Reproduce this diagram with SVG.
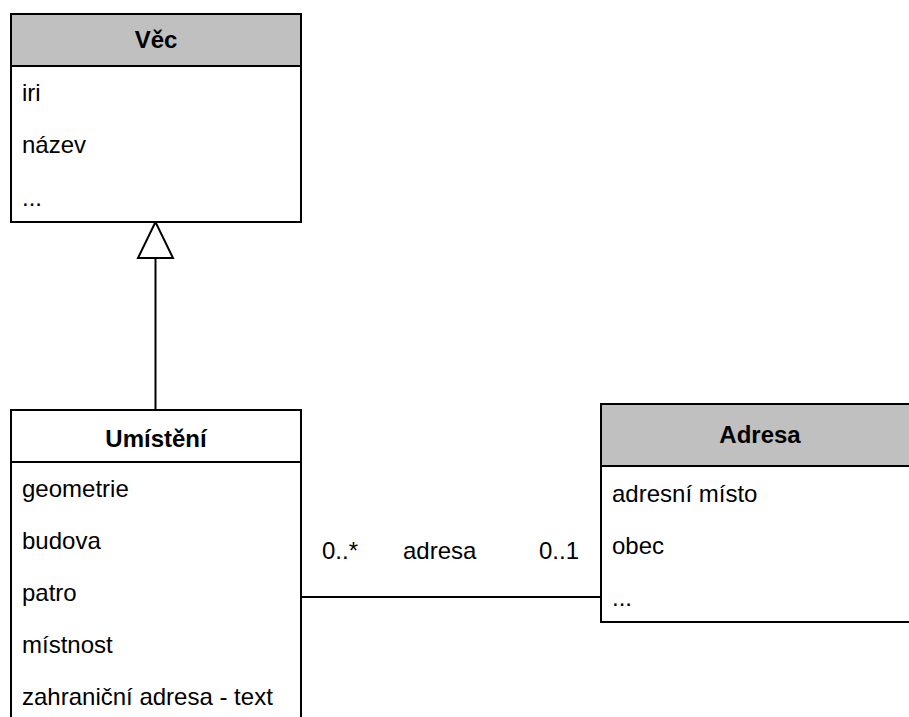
<svg xmlns="http://www.w3.org/2000/svg" width="909" height="717" viewBox="0 0 909 717">
  <style>
    .box { fill: #ffffff; stroke: #000000; stroke-width: 2; }
    .head { fill: #c0c0c0; stroke: #000000; stroke-width: 2; }
    .title { font-family: "Liberation Sans", Arial, sans-serif; font-size: 24px; font-weight: bold; text-anchor: middle; fill: #000; }
    .attr { font-family: "Liberation Sans", Arial, sans-serif; font-size: 24px; fill: #000; }
    .edge { stroke: #000000; stroke-width: 2; fill: none; }
    .lbl { font-family: "Liberation Sans", Arial, sans-serif; font-size: 24px; fill: #000; }
  </style>
  <rect width="909" height="717" fill="#ffffff"/>

  <g id="connectors">
    <!-- generalization: Umístění -> Věc -->
    <line class="edge" x1="155.5" y1="410" x2="155.5" y2="258"/>
    <polygon class="edge" points="155.5,222 138,258 173,258" style="fill:#ffffff"/>
    <!-- association adresa -->
    <line class="edge" x1="301" y1="597" x2="601" y2="597"/>
    <text class="lbl" x="322" y="559">0..*</text>
    <text class="lbl" x="403" y="559">adresa</text>
    <text class="lbl" x="539" y="559">0..1</text>
  </g>

  <g id="vec">
    <rect class="box" x="11" y="14" width="290" height="208"/>
    <rect class="head" x="11" y="14" width="290" height="52"/>
    <text class="title" x="156" y="48">Věc</text>
    <text class="attr" x="22" y="101">iri</text>
    <text class="attr" x="22" y="153">název</text>
    <text class="attr" x="22" y="206">...</text>
  </g>

  <g id="umisteni">
    <rect class="box" x="11" y="410" width="290" height="320"/>
    <line class="edge" x1="11" y1="462" x2="301" y2="462"/>
    <text class="title" x="156" y="447">Umístění</text>
    <text class="attr" x="22" y="497">geometrie</text>
    <text class="attr" x="22" y="549">budova</text>
    <text class="attr" x="22" y="601">patro</text>
    <text class="attr" x="22" y="653">místnost</text>
    <text class="attr" x="22" y="705">zahraniční adresa - text</text>
  </g>

  <g id="adresa">
    <rect class="box" x="601" y="404" width="320" height="218"/>
    <rect class="head" x="601" y="404" width="320" height="62"/>
    <text class="title" x="760" y="443">Adresa</text>
    <text class="attr" x="612" y="502">adresní místo</text>
    <text class="attr" x="612" y="554">obec</text>
    <text class="attr" x="612" y="606">...</text>
  </g>
</svg>
